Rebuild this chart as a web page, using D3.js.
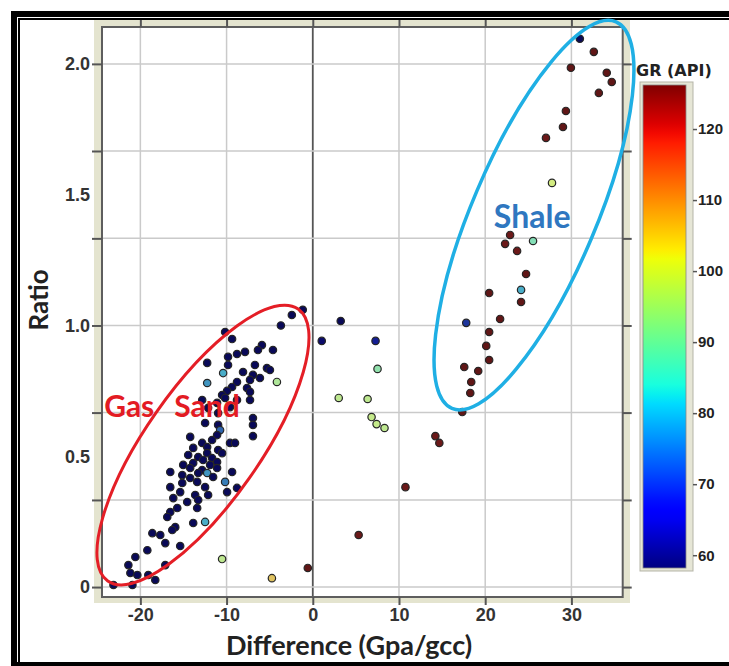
<!DOCTYPE html>
<html>
<head>
<meta charset="utf-8">
<title>Ratio vs Difference</title>
<script src="https://d3js.org/d3.v7.min.js"></script>
<style>
  body { margin: 0; background: #fff; }
  svg { display: block; }
</style>
</head>
<body>
<div id="chart"></div>
<script>

// gas sand cluster (Difference, Ratio, GR)
var sandDiff = [-1.16, -2.43, -3.70, -10.17, -9.36, -5.90, -6.36, -7.86, -8.79, -9.83,
  -4.62, -12.25, -9.83, -6.71, -5.32, -4.97, -10.40, -8.09, -6.94, -6.13,
  -7.28, -8.79, -12.25, -4.16, -9.36, -7.63, -9.94, -7.28, -10.52, -10.17,
  -12.83, -8.79, -7.28, -11.10, -12.14, -9.60, -10.98, -6.94, -6.94, -12.49,
  -10.98, -6.94, -10.75, -14.22, -11.10, -11.68, -9.60, -9.02, -12.83, -12.25,
  -13.87, -10.98, -10.52, -12.25, -14.45, -13.29, -11.68, -12.72, -11.10, -13.87,
  -15.03, -11.91, -14.22, -12.83, -11.10, -16.53, -13.29, -15.14, -12.25, -9.36,
  -11.56, -14.22, -10.17, -13.41, -15.14, -16.53, -12.49, -9.94, -8.79, -15.38,
  -13.64, -12.14, -16.18, -13.29, -14.57, -15.72, -13.41, -16.53, -16.88, -12.49,
  -13.87, -15.95, -16.30, -18.61, -17.69, -17.11, -15.38, -19.19, -10.52, -20.58,
  -21.39, -17.11, -21.16, -20.35, -19.08, -18.27, -20.92, -23.12];
var sandRatio = [1.06, 1.04, 1.00, 0.975, 0.948, 0.925, 0.906, 0.899, 0.891, 0.880,
  0.906, 0.857, 0.849, 0.849, 0.837, 0.830, 0.818, 0.822, 0.811, 0.799,
  0.792, 0.784, 0.780, 0.784, 0.765, 0.761, 0.750, 0.746, 0.734, 0.723,
  0.715, 0.715, 0.715, 0.704, 0.685, 0.688, 0.665, 0.646, 0.620, 0.627,
  0.620, 0.577, 0.600, 0.574, 0.581, 0.562, 0.551, 0.551, 0.551, 0.535,
  0.532, 0.524, 0.512, 0.512, 0.505, 0.497, 0.493, 0.486, 0.478, 0.474,
  0.467, 0.467, 0.455, 0.447, 0.455, 0.440, 0.436, 0.428, 0.436, 0.440,
  0.421, 0.417, 0.402, 0.402, 0.398, 0.382, 0.382, 0.363, 0.379, 0.363,
  0.352, 0.352, 0.340, 0.333, 0.325, 0.302, 0.302, 0.287, 0.268, 0.249,
  0.245, 0.229, 0.218, 0.206, 0.199, 0.168, 0.157, 0.141, 0.107, 0.115,
  0.084, 0.084, 0.054, 0.046, 0.046, 0.027, 0.008, 0.008];
var sandGR = [60, 60, 60, 60, 60, 60, 60, 60, 60, 60,
  60, 60, 60, 60, 60, 60, 80, 60, 60, 60,
  60, 60, 78, 94, 60, 60, 60, 60, 60, 60,
  60, 60, 60, 60, 60, 60, 60, 60, 60, 60,
  60, 60, 74, 60, 60, 60, 60, 60, 60, 60,
  60, 60, 60, 60, 60, 60, 60, 60, 60, 60,
  60, 60, 60, 60, 60, 60, 60, 60, 78, 60,
  60, 60, 76, 60, 60, 60, 60, 60, 60, 60,
  60, 60, 60, 60, 60, 60, 60, 60, 60, 80,
  60, 60, 60, 60, 60, 60, 60, 60, 96, 60,
  60, 60, 60, 60, 60, 60, 60, 60];

// points between the two clusters
var midDiff = [3.24, 1.04, 7.28, 7.51, 3.01, 6.36, 6.82, 7.40, 8.32, 14.22, 14.68, 10.75, 5.32, -0.58, -4.74];
var midRatio = [1.017, 0.941, 0.941, 0.834, 0.723, 0.719, 0.650, 0.623, 0.608, 0.577, 0.551, 0.382, 0.199, 0.073, 0.034];
var midGR = [60, 62, 68, 90, 96, 96, 97, 97, 96, 124, 124, 124, 124, 125, 106];

// shale cluster
var shaleDiff = [30.98, 32.60, 29.94, 34.10, 34.68, 33.18, 29.36, 29.02, 27.05, 27.75,
  22.89, 22.31, 25.55, 23.70, 24.74, 20.46, 24.16, 24.16, 21.73, 17.80,
  20.46, 20.12, 20.46, 17.57, 19.19, 18.38, 18.27, 17.34];
var shaleRatio = [2.096, 2.046, 1.985, 1.966, 1.931, 1.889, 1.820, 1.759, 1.717, 1.545,
  1.346, 1.312, 1.323, 1.285, 1.197, 1.124, 1.136, 1.090, 1.025, 1.010,
  0.975, 0.922, 0.868, 0.841, 0.826, 0.784, 0.742, 0.669];
var shaleGR = [60, 125, 125, 125, 125, 125, 125, 125, 124, 99,
  124, 124, 88, 124, 125, 125, 80, 125, 125, 70,
  125, 125, 125, 125, 125, 125, 125, 125];

// axes
var xTicks = [-20, -10, 0, 10, 20, 30];
var yLabels = [0, 0.5, 1.0, 1.5, 2.0];
var yLabelText = ["0", "0.5", "1.0", "1.5", "2.0"];
var yGrid = [0, 0.333, 0.667, 1.0, 1.333, 1.667, 2.0];
var grTicks = [60, 70, 80, 90, 100, 110, 120];

var W = 729, H = 666;
var pL = 102, pR = 622.7, pT = 27, pB = 597;

var svg = d3.select("#chart").append("svg")
  .attr("width", W).attr("height", H);

var x = d3.scaleLinear().domain([-24.45, 35.95]).range([pL, pR]);
var y = d3.scaleLinear().domain([-0.038, 2.141]).range([pB, pT]);

// jet colour map
var jr = d3.scaleLinear().domain([0, 0.35, 0.66, 0.89, 1]).range([0, 0, 1, 1, 0.5]).clamp(true);
var jg = d3.scaleLinear().domain([0, 0.125, 0.375, 0.64, 0.91, 1]).range([0, 0, 1, 1, 0, 0]).clamp(true);
var jb = d3.scaleLinear().domain([0, 0.11, 0.34, 0.65, 1]).range([0.5, 1, 1, 0, 0]).clamp(true);
var grT = d3.scaleLinear().domain([58.2, 126.2]).range([0, 1]);
function jet(v) {
  var t = grT(v);
  return d3.rgb(jr(t) * 255, jg(t) * 255, jb(t) * 255);
}
// dots in the picture look washed out: pull them halfway to a grey of equal brightness
function dotColor(v) {
  var c = jet(v);
  var lum = 0.3 * c.r + 0.59 * c.g + 0.11 * c.b;
  return d3.interpolateRgb(c, d3.rgb(lum, lum, lum))(0.5);
}

// outer frame
svg.append("rect").attr("x", 14).attr("y", 14).attr("width", 760).attr("height", 651)
  .attr("fill", "#fff").attr("stroke", "#000").attr("stroke-width", 6);
svg.append("path").attr("d", "M19,666V19H729")
  .attr("fill", "none").attr("stroke", "#000").attr("stroke-width", 2);

// beige axis band + plot area
svg.append("rect").attr("x", 94).attr("y", 20).attr("width", 536).attr("height", 583)
  .attr("fill", "#e4e4cf");
svg.append("rect").attr("x", pL).attr("y", pT).attr("width", pR - pL).attr("height", pB - pT)
  .attr("fill", "#fff");

// grid
var grid = svg.append("g");
grid.selectAll(".gx").data(xTicks).enter().append("line")
  .attr("x1", d => x(d)).attr("x2", d => x(d)).attr("y1", pT).attr("y2", pB)
  .attr("stroke", d => d === 0 ? "#555" : "#cacaca")
  .attr("stroke-width", d => d === 0 ? 1.8 : 1.5);
grid.selectAll(".gy").data(yGrid).enter().append("line")
  .attr("x1", pL).attr("x2", pR).attr("y1", d => y(d)).attr("y2", d => y(d))
  .attr("stroke", "#cacaca").attr("stroke-width", 1.5);

svg.append("rect").attr("x", pL).attr("y", pT).attr("width", pR - pL).attr("height", pB - pT)
  .attr("fill", "none").attr("stroke", "#5e5e5e").attr("stroke-width", 2);

// tick marks on all four sides
function ticksOnly(axis, tr) {
  var g = svg.append("g").attr("transform", tr).call(axis);
  g.select(".domain").remove();
  g.selectAll(".tick line").attr("stroke", "#555").attr("stroke-width", 2);
  return g;
}
ticksOnly(d3.axisLeft(y).tickValues(yGrid).tickSize(10).tickFormat(""), "translate(" + pL + ",0)");
ticksOnly(d3.axisRight(y).tickValues(yGrid).tickSize(9).tickFormat(""), "translate(" + pR + ",0)");
ticksOnly(d3.axisTop(x).tickValues(xTicks).tickSize(7).tickFormat(""), "translate(0," + pT + ")");
var xa = ticksOnly(d3.axisBottom(x).tickValues(xTicks).tickSize(8).tickFormat(d => String(d)),
  "translate(0," + pB + ")");
xa.selectAll("text")
  .attr("y", 24).attr("dy", 0)
  .style("font-family", "'Liberation Sans', Arial, sans-serif")
  .style("font-weight", "bold").style("font-size", "18px").attr("fill", "#333");

var ya = svg.append("g").attr("transform", "translate(" + pL + ",0)")
  .call(d3.axisLeft(y).tickValues(yLabels).tickSize(0).tickPadding(12)
    .tickFormat((d, i) => yLabelText[i]));
ya.select(".domain").remove();
ya.selectAll("text")
  .style("font-family", "'Liberation Sans', Arial, sans-serif")
  .style("font-weight", "bold").style("font-size", "18px").attr("fill", "#333");

// axis titles
svg.append("text").attr("x", 349).attr("y", 655).attr("text-anchor", "middle")
  .style("font-family", "Lato, sans-serif").style("font-weight", "bold").style("font-size", "27px")
  .attr("fill", "#222").text("Difference (Gpa/gcc)");
svg.append("text").attr("transform", "translate(48,300) rotate(-90)").attr("text-anchor", "middle")
  .style("font-family", "Lato, sans-serif").style("font-weight", "bold").style("font-size", "26px")
  .attr("fill", "#222").text("Ratio");

// points
function drawPoints(dx, dy, gr) {
  svg.append("g").selectAll("circle").data(dx).enter().append("circle")
    .attr("cx", d => x(d))
    .attr("cy", (d, i) => y(dy[i]))
    .attr("r", 3.7)
    .attr("fill", (d, i) => dotColor(gr[i]))
    .attr("stroke", "#262626").attr("stroke-width", 1.2);
}
drawPoints(sandDiff, sandRatio, sandGR);
drawPoints(midDiff, midRatio, midGR);
drawPoints(shaleDiff, shaleRatio, shaleGR);

// annotation ellipses
svg.append("ellipse")
  .attr("cx", x(-12.74)).attr("cy", y(0.543)).attr("rx", 166).attr("ry", 57)
  .attr("transform", "rotate(-55," + x(-12.74) + "," + y(0.543) + ")")
  .attr("fill", "none").attr("stroke", "#e41e26").attr("stroke-width", 3);
svg.append("ellipse")
  .attr("cx", x(25.66)).attr("cy", y(1.422)).attr("rx", 210).attr("ry", 62)
  .attr("transform", "rotate(-67," + x(25.66) + "," + y(1.422) + ")")
  .attr("fill", "none").attr("stroke", "#1fafe4").attr("stroke-width", 3.5);

var gas = svg.append("text").attr("x", x(-24.2)).attr("y", y(0.65))
  .style("font-family", "Lato, sans-serif").style("font-weight", "bold").style("font-size", "30px")
  .attr("fill", "#e31b23");
gas.append("tspan").text("Gas");
gas.append("tspan").attr("dx", 20).text("Sand");
svg.append("text").attr("x", x(21.0)).attr("y", y(1.374))
  .style("font-family", "Lato, sans-serif").style("font-weight", "bold").style("font-size", "32px")
  .attr("fill", "#2f77c0").text("Shale");

// colour bar
var cb = d3.scaleLinear().domain([58.2, 126.2]).range([568, 85]);
var defs = svg.append("defs");
var grad = defs.append("linearGradient").attr("id", "jet")
  .attr("x1", 0).attr("y1", 1).attr("x2", 0).attr("y2", 0);
grad.selectAll("stop").data(d3.range(0, 1.0001, 0.02)).enter().append("stop")
  .attr("offset", d => d)
  .attr("stop-color", d => jet(grT.invert(d)));

svg.append("rect").attr("x", 640).attr("y", 82).attr("width", 53).attr("height", 489)
  .attr("fill", "#e6e6d6").attr("stroke", "#b5b5a8").attr("stroke-width", 1);
svg.append("rect").attr("x", 643).attr("y", cb(126.2)).attr("width", 43).attr("height", cb(58.2) - cb(126.2))
  .attr("fill", "url(#jet)").attr("stroke", "#888").attr("stroke-width", 0.8);

var ca = svg.append("g").attr("transform", "translate(693,0)")
  .call(d3.axisRight(cb).tickValues(grTicks).tickSize(4).tickPadding(1));
ca.select(".domain").remove();
ca.selectAll(".tick line").attr("stroke", "#555").attr("stroke-width", 1.5);
ca.selectAll("text")
  .style("font-family", "'Liberation Sans', Arial, sans-serif")
  .style("font-weight", "bold").style("font-size", "15px").attr("fill", "#222");

svg.append("text").attr("x", 636).attr("y", 76)
  .style("font-family", "'DejaVu Sans', sans-serif").style("font-weight", "bold").style("font-size", "16px")
  .attr("fill", "#222").text("GR (API)");

</script>
</body>
</html>
